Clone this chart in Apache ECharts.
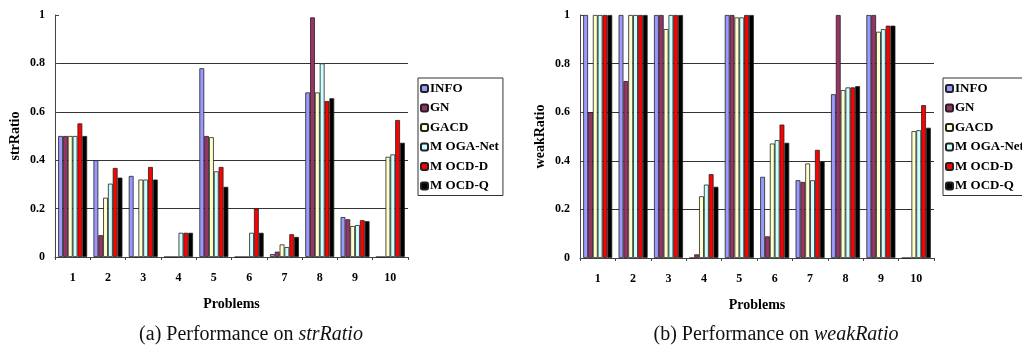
<!DOCTYPE html>
<html>
<head>
<meta charset="utf-8">
<script src="https://cdn.jsdelivr.net/npm/echarts@6/dist/echarts.min.js"></script>
<style>
html,body{margin:0;padding:0;background:#fff;}
#c{width:1022px;height:348px;}
</style>
</head>
<body>
<div id="c"></div>
<script>
const problems = ['1','2','3','4','5','6','7','8','9','10'];
const methods = ['INFO','GN','GACD','M OGA-Net','M OCD-D','M OCD-Q'];
const methodColors = ['#9999FF','#993366','#FFFFCC','#CCFFFF','#FF0000','#000000'];
const yTicks = [0, 0.2, 0.4, 0.6, 0.8, 1];

// strRatio values per method (problems 1..10)
const strINFO  = [0.50, 0.40, 0.335, 0, 0.78, 0, 0.012, 0.68, 0.165, 0];
const strGN    = [0.50, 0.09, 0, 0, 0.50, 0, 0.022, 0.99, 0.156, 0];
const strGACD  = [0.50, 0.245, 0.32, 0, 0.495, 0, 0.052, 0.68, 0.128, 0.414];
const strMOGA  = [0.50, 0.303, 0.32, 0.10, 0.354, 0.10, 0.041, 0.80, 0.132, 0.424];
const strMOCDD = [0.552, 0.368, 0.372, 0.10, 0.372, 0.20, 0.094, 0.644, 0.152, 0.566];
const strMOCDQ = [0.50, 0.328, 0.32, 0.10, 0.29, 0.10, 0.083, 0.656, 0.148, 0.472];

// weakRatio values per method (problems 1..10)
const weakINFO  = [1, 1, 1, 0, 1, 0.334, 0.32, 0.674, 1, 0];
const weakGN    = [0.60, 0.728, 1, 0.015, 1, 0.089, 0.313, 1, 1, 0];
const weakGACD  = [1, 1, 0.942, 0.254, 0.99, 0.471, 0.389, 0.691, 0.931, 0.522];
const weakMOGA  = [1, 1, 1, 0.302, 0.99, 0.485, 0.32, 0.702, 0.942, 0.526];
const weakMOCDD = [1, 1, 1, 0.345, 1, 0.549, 0.445, 0.702, 0.956, 0.629];
const weakMOCDQ = [1, 1, 1, 0.293, 1, 0.474, 0.397, 0.707, 0.956, 0.536];

const strData = [strINFO, strGN, strGACD, strMOGA, strMOCDD, strMOCDQ];
const weakData = [weakINFO, weakGN, weakGACD, weakMOGA, weakMOCDD, weakMOCDQ];

const tickFont = {fontFamily:'Liberation Serif', fontWeight:'bold', fontSize:12, color:'#000'};

function xAxisCfg(gridIndex){
  return {
    type:'category', gridIndex, data: problems,
    name:'Problems', nameLocation:'middle', nameGap:40,
    nameTextStyle:{fontFamily:'Liberation Serif', fontWeight:'bold', fontSize:14, color:'#000'},
    axisLine:{lineStyle:{color:'#444', width:1}},
    axisTick:{show:true, length:3, lineStyle:{color:'#444'}},
    axisLabel:Object.assign({margin:15}, tickFont),
    splitLine:{show:false}
  };
}
function yAxisCfg(gridIndex, name){
  return {
    type:'value', gridIndex, min:0, max:1, interval:0.2,
    name, nameLocation:'middle', nameGap:33, nameRotate:90,
    nameTextStyle:{fontFamily:'Liberation Serif', fontWeight:'bold', fontSize:14, color:'#000'},
    axisLine:{show:true, lineStyle:{color:'#444', width:1}},
    axisTick:{show:true, inside:true, length:4, lineStyle:{color:'#444'}},
    axisLabel:Object.assign({margin:10, formatter:(v)=> yTicks.includes(Math.round(v*10)/10) ? String(Math.round(v*10)/10) : ''}, tickFont),
    splitLine:{show:true, lineStyle:{color:['transparent','#333','#333','#333','#333','transparent'], width:1}}
  };
}
function seriesFor(dataSet, idx){
  return methods.map((m,i)=>({
    name:m, type:'bar', xAxisIndex:idx, yAxisIndex:idx,
    data: dataSet[i],
    barGap:'0%', barCategoryGap:'18%',
    itemStyle:{color:methodColors[i], borderColor:'#222', borderWidth:0.8},
    emphasis:{disabled:true},
    animation:false
  }));
}
function legendCfg(left){
  return {
    data: methods, orient:'vertical', left, top:78,
    itemWidth:7, itemHeight:7, itemGap:6.5, padding:[4,4,3,2],
    borderColor:'#333', borderWidth:1, backgroundColor:'#fff',
    textStyle:{fontFamily:'Liberation Serif', fontWeight:'bold', fontSize:13, lineHeight:13, color:'#000', padding:[0,0,0,-3]},
    selectedMode:false
  };
}

const chart = echarts.init(document.getElementById('c'), null, {renderer:'canvas'});
chart.setOption({
  animation:false,
  backgroundColor:'#fff',
  title:[
    {text:'(a) Performance on {i|strRatio}', left:246, top:320, textAlign:'center',
     textStyle:{fontFamily:'Liberation Serif', fontWeight:'normal', fontSize:20, color:'#111',
       rich:{i:{fontFamily:'Liberation Serif', fontStyle:'italic', fontSize:20, color:'#111'}}}},
    {text:'(b) Performance on {i|weakRatio}', left:771, top:320, textAlign:'center',
     textStyle:{fontFamily:'Liberation Serif', fontWeight:'normal', fontSize:20, color:'#111',
       rich:{i:{fontFamily:'Liberation Serif', fontStyle:'italic', fontSize:20, color:'#111'}}}}
  ],
  legend:[legendCfg(418), legendCfg(943)],
  grid:[
    {left:55, right:614, top:15, bottom:91, containLabel:false},
    {left:580, right:88, top:15, bottom:90, containLabel:false}
  ],
  xAxis:[xAxisCfg(0), xAxisCfg(1)],
  yAxis:[yAxisCfg(0,'strRatio'), yAxisCfg(1,'weakRatio')],
  series:[...seriesFor(strData,0), ...seriesFor(weakData,1)]
});
</script>
</body>
</html>
